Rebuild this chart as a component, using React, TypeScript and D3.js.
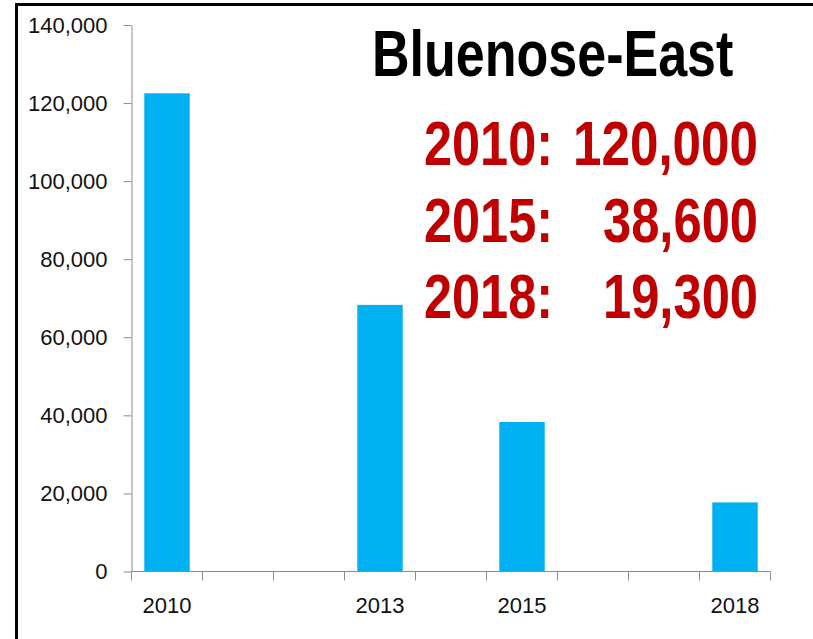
import * as d3 from "d3";
import React, {useEffect, useRef} from "react";

const years = ["2010", "2011", "2012", "2013", "2014", "2015", "2016", "2017", "2018"];
const surveyYears = ["2010", "2013", "2015", "2018"];
const herdCounts = [122500, 68300, 38300, 17700];
const labelYears = ["2010", "2013", "2015", "2018"];
const yTicks = [0, 20000, 40000, 60000, 80000, 100000, 120000, 140000];

const title = "Bluenose-East";
const estimateYears = ["2010:", "2015:", "2018:"];
const estimateValues = ["120,000", "38,600", "19,300"];

const width = 813;
const height = 639;

const App: React.FC = () => {
  const ref = useRef<SVGSVGElement | null>(null);

  useEffect(() => {
    const svg = d3.select(ref.current);
    svg.selectAll('*').remove();

    const margin = { top: 25, right: 42.5, bottom: 67.5, left: 131.5 };

    // frame lines (left + top only)
    svg.append('line')
      .attr('x1', 16.5).attr('x2', 16.5).attr('y1', 3).attr('y2', height)
      .attr('stroke', '#000').attr('stroke-width', 3);
    svg.append('line')
      .attr('x1', 15).attr('x2', width).attr('y1', 4.5).attr('y2', 4.5)
      .attr('stroke', '#000').attr('stroke-width', 3);

    const yScale = d3.scaleLinear()
      .domain([0, 140000])
      .range([height - margin.bottom, margin.top]);

    const xSlot = d3.scaleBand<string>()
      .domain(years)
      .range([margin.left, width - margin.right])
      .padding(0);

    const xBar = d3.scaleBand<string>()
      .domain(years)
      .range([margin.left, width - margin.right])
      .paddingInner(0.36)
      .paddingOuter(0.18);

    // bars
    svg.append('g')
      .selectAll('rect')
      .data(surveyYears.map((y, i) => ({ year: y, value: herdCounts[i] })))
      .enter()
      .append('rect')
      .attr('x', (d) => xBar(d.year) as number)
      .attr('width', xBar.bandwidth())
      .attr('y', (d) => yScale(d.value))
      .attr('height', (d) => yScale(0) - yScale(d.value))
      .attr('fill', '#00B0F0');

    // y axis
    const yAxis = svg.append('g')
      .attr('transform', `translate(${margin.left}, 0)`)
      .call(d3.axisLeft(yScale)
        .tickValues(yTicks)
        .tickFormat(d3.format(','))
        .tickSize(8)
        .tickSizeOuter(0)
        .tickPadding(16));
    yAxis.selectAll('path, line').attr('stroke', '#8c8c8c');
    yAxis.selectAll('text')
      .attr('fill', '#111')
      .style('font-family', 'Liberation Sans, Arial, sans-serif')
      .style('font-size', '22px');

    // x axis: line, ticks at slot boundaries, labels on survey years only
    const base = yScale(0);
    const xAxis = svg.append('g');
    xAxis.append('line')
      .attr('x1', margin.left).attr('x2', width - margin.right)
      .attr('y1', base).attr('y2', base)
      .attr('stroke', '#8c8c8c');
    const bounds = years.map((y) => xSlot(y) as number).concat([width - margin.right]);
    xAxis.selectAll('.tick')
      .data(bounds)
      .enter()
      .append('line')
      .attr('x1', (d) => d).attr('x2', (d) => d)
      .attr('y1', base).attr('y2', base + 9)
      .attr('stroke', '#8c8c8c');
    xAxis.selectAll('.label')
      .data(labelYears)
      .enter()
      .append('text')
      .attr('x', (d) => (xSlot(d) as number) + xSlot.bandwidth() / 2)
      .attr('y', base + 41)
      .attr('text-anchor', 'middle')
      .attr('fill', '#111')
      .style('font-family', 'Liberation Sans, Arial, sans-serif')
      .style('font-size', '22px')
      .text((d) => d);

    // title, squeezed horizontally like a narrow face
    svg.append('text')
      .attr('transform', 'translate(372, 76) scale(0.813, 1)')
      .attr('fill', '#000')
      .style('font-family', 'Liberation Sans, Arial, sans-serif')
      .style('font-weight', 'bold')
      .style('font-size', '64px')
      .text(title);

    // estimates
    const est = svg.append('g')
      .style('font-family', 'Liberation Sans Narrow, Liberation Sans, Arial, sans-serif')
      .style('font-weight', 'bold')
      .style('font-size', '63px')
      .attr('fill', '#C00000');
    estimateYears.forEach((label, i) => {
      const baseline = 165 + i * 76.5;
      est.append('text')
        .attr('x', 424)
        .attr('y', baseline)
        .attr('textLength', 129)
        .attr('lengthAdjust', 'spacingAndGlyphs')
        .text(label);
      const val = estimateValues[i];
      const w = val.length === 7 ? 185 : 155;
      est.append('text')
        .attr('x', 758 - w)
        .attr('y', baseline)
        .attr('textLength', w)
        .attr('lengthAdjust', 'spacingAndGlyphs')
        .text(val);
    });

    return () => {
      svg.selectAll('*').remove();
    };
  }, []);

  return (
    <svg
      ref={ref}
      width={width}
      height={height}
      style={{ position: 'absolute', left: 0, top: 0, background: '#fff' }}
    />
  );
};

export default App;
